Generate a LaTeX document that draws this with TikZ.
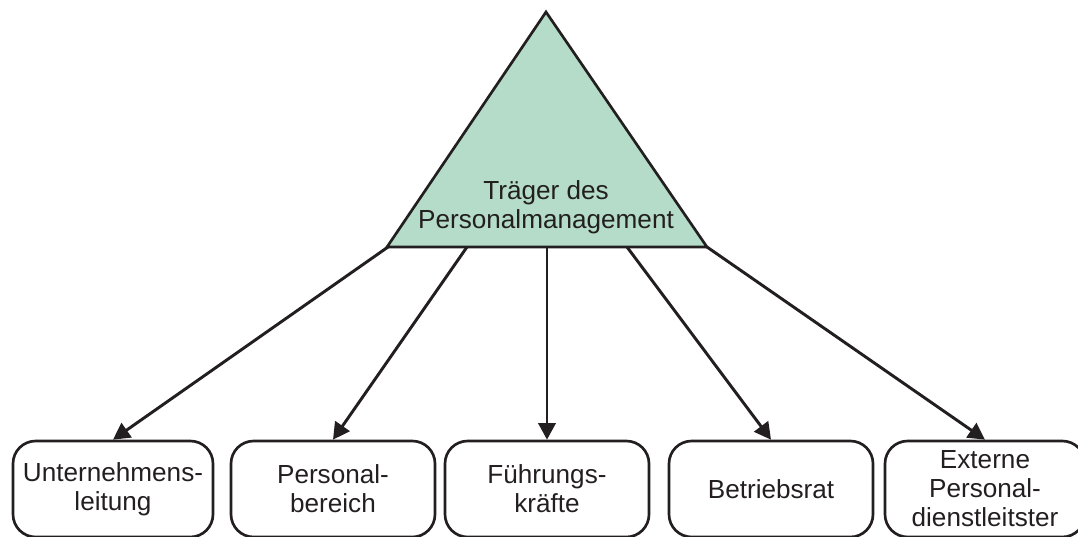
\documentclass[tikz,border=0pt]{standalone}
\usepackage{fontspec}
\setmainfont{Liberation Sans}
\usetikzlibrary{arrows.meta}
\definecolor{trifill}{HTML}{B4DCC8}
\definecolor{ink}{HTML}{231F20}
\begin{document}
\begin{tikzpicture}[x=0.75pt,y=-0.75pt,
  lbl/.style={font=\fontsize{19.6pt}{21.75pt}\selectfont, text=ink, align=center},
  carrier/.style={draw=ink, line width=2pt, rounded corners=17pt,
    minimum width=150pt, minimum height=72pt, inner sep=0pt, lbl},
  arr/.style={draw=ink, line width=2.2pt, -{Triangle[length=12.5pt,width=13pt]}}]
\useasboundingbox (0,0) rectangle (1078,536);
% apex and base corners of the triangle
\coordinate (apex) at (546,12);
\coordinate (bl) at (387,247);
\coordinate (br) at (707,247);
\filldraw[fill=trifill, draw=ink, line width=2pt, line join=miter] (apex) -- (br) -- (bl) -- cycle;
\node[lbl] (top) at (546,207.5) {Träger des\\Personalmanagement};
% start points of the arrows on the base
\coordinate (s1) at (388,247);
\coordinate (s2) at (467,247);
\coordinate (s3) at (547,247);
\coordinate (s4) at (627,247);
\coordinate (s5) at (707,247);
% the carriers
\node[carrier] (u) at (113,489) {Unternehmens-\\leitung};
\node[carrier, minimum width=153pt] (p) at (333,489) {Personal-\\bereich};
\node[carrier, minimum width=153pt] (f) at (547,489) {Führungs-\\kräfte};
\node[carrier, minimum width=153pt] (b) at (771,489) {Betriebsrat};
\node[carrier] (e) at (985,489) {Externe\\Personal-\\dienstleitster};
\draw[arr] (s1) -- (u.north);
\draw[arr] (s2) -- (p.north);
\draw[arr] (s3) -- (f.north);
\draw[arr] (s4) -- (b.north);
\draw[arr] (s5) -- (e.north);
\end{tikzpicture}
\end{document}
